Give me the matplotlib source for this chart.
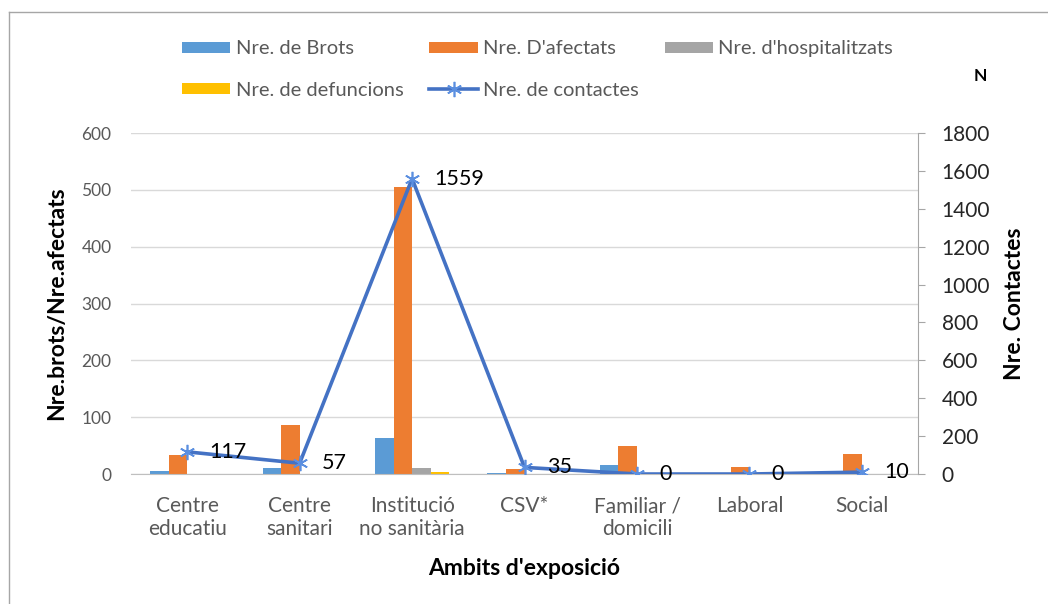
import numpy as np
import matplotlib
matplotlib.use("Agg")
import matplotlib.pyplot as plt
from matplotlib.lines import Line2D

plt.rcParams['font.family'] = ['Lato', 'DejaVu Sans']

# Dades
ambits = ["Centre\neducatiu", "Centre\nsanitari", "Institució\nno sanitària", "CSV*",
          "Familiar /\ndomicili", "Laboral", "Social"]
brots = [5, 10, 63, 2, 16, 0, 1]
afectats = [33, 86, 505, 8, 49, 13, 36]
hospitalitzats = [0, 0, 10, 0, 0, 0, 0]
defuncions = [0, 0, 3, 0, 0, 0, 0]
contactes = [117, 57, 1559, 35, 0, 0, 10]

gris = "#595959"
fig = plt.figure(figsize=(10.48, 6.04), dpi=100)
ax = fig.add_axes([0.125, 0.2152, 0.751, 0.5646])
ax2 = ax.twinx()

x = np.arange(len(ambits))
w = 0.165
series = [(brots, "#5B9BD5", "Nre. de Brots"),
          (afectats, "#ED7D31", "Nre. D'afectats"),
          (hospitalitzats, "#A5A5A5", "Nre. d'hospitalitzats"),
          (defuncions, "#FFC000", "Nre. de defuncions")]
barres = []
for k, (vals, col, nom) in enumerate(series):
    b = ax.bar(x + (k - 1.5) * w, vals, w, color=col, label=nom, zorder=2)
    barres.append(b)

linia, = ax2.plot(x, contactes, color="#4472C4", lw=2.6, marker=(6, 2, 0),
                  markersize=11, markeredgecolor="#5B8FE0", markeredgewidth=1.2,
                  label="Nre. de contactes", zorder=3)
for xi, v in zip(x, contactes):
    ax2.annotate(str(v), (xi, v), xytext=(16, 0), textcoords="offset points",
                 ha="left", va="center", fontsize=15.5, color="black")

ax.set_xlim(-0.5, 6.5)
ax.set_ylim(0, 600)
ax.set_yticks(range(0, 601, 100))
ax2.set_ylim(0, 1800)
ax2.set_yticks(range(0, 1801, 200))

ax.grid(axis="y", color="#D9D9D9", lw=1, zorder=0)
ax.set_axisbelow(True)
for s in ["top", "left", "right"]:
    ax.spines[s].set_visible(False)
for s in ["top", "left", "bottom"]:
    ax2.spines[s].set_visible(False)
ax.spines["bottom"].set_color("#BFBFBF")
ax2.spines["right"].set_color("#A6A6A6")

ax.set_xticks(x)
ax.set_xticklabels(ambits, fontsize=15, color=gris, linespacing=1.15)
ax.tick_params(axis="x", length=0, pad=16)
ax.tick_params(axis="y", length=0, pad=14, labelsize=12.5, labelcolor=gris)
ax2.tick_params(axis="y", length=5, color="#A6A6A6", pad=12, labelsize=15,
                labelcolor="#262626")

ax.set_xlabel("Ambits d'exposició", fontsize=16.5, fontweight="bold", labelpad=14)
ax.set_ylabel("Nre.brots/Nre.afectats", fontsize=16.5, fontweight="bold", labelpad=10)
ax2.set_ylabel("Nre. Contactes", fontsize=16.5, fontweight="bold", labelpad=10)

fig.text(0.935, 0.874, "N", fontsize=12.5, fontweight="bold", ha="center", va="center")

handles = [barres[0], barres[3], barres[1], linia, barres[2]]
fig.legend(handles, [h.get_label() for h in handles], ncol=3, frameon=False,
           loc="upper left", bbox_to_anchor=(0.1565, 0.963), fontsize=14.5,
           labelcolor=gris, handlelength=2.4, handleheight=0.5,
           columnspacing=1.3, handletextpad=0.25, labelspacing=1.2)

# marc del gràfic
fig.add_artist(Line2D([0.0086, 0.0086], [0.0, 0.980], color="#A6A6A6", lw=1,
                      transform=fig.transFigure))
fig.add_artist(Line2D([0.0086, 1.0], [0.980, 0.980], color="#A6A6A6", lw=1,
                      transform=fig.transFigure))

fig.savefig("out.png", dpi=100)
